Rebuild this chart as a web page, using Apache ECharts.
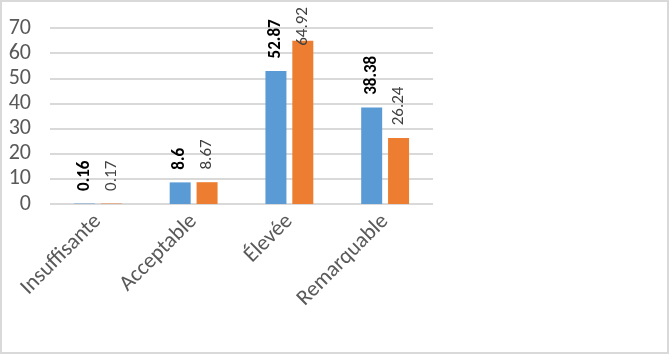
<!DOCTYPE html>
<html>
<head>
<meta charset="utf-8">
<script src="https://cdn.jsdelivr.net/npm/echarts@6/dist/echarts.min.js"></script>
<style>
  html, body { margin: 0; padding: 0; background: #fff; }
  #container { width: 669px; height: 354px; box-shadow: inset 0 0 0 2px #d9d9d9; }
</style>
</head>
<body>
<div id="container"></div>
<script>
// données
var categories = ['Insuffisante', 'Acceptable', 'Élevée', 'Remarquable'];
var ldValues = [0.16, 8.6, 52.87, 38.38];
var icValues = [0.17, 8.67, 64.92, 26.24];
var yTicks = [0, 10, 20, 30, 40, 50, 60, 70];

var font = 'Carlito, "Liberation Sans", sans-serif';

var myChart = echarts.init(document.getElementById('container'));

var icData = icValues.map(function (v, i) {
  if (i === 2) return { value: v, label: { position: 'insideTop' } };
  return v;
});

function spaced(p) {
  return (p.seriesIndex === 1 && p.dataIndex === 2) ? String(p.value) : '  ' + p.value;
}

myChart.setOption({
  animation: false,
  grid: { left: 50, right: 236, top: 28, bottom: 150 },
  xAxis: {
    type: 'category',
    data: categories,
    axisLine: { show: false },
    axisTick: { show: false },
    axisLabel: { rotate: 45, margin: 14, interval: 0, fontSize: 22, color: '#595959', fontFamily: font }
  },
  yAxis: {
    type: 'value',
    min: yTicks[0],
    max: yTicks[yTicks.length - 1],
    interval: 10,
    axisLine: { show: false },
    axisTick: { show: false },
    axisLabel: { margin: 19, fontSize: 22, color: '#595959', fontFamily: font },
    splitLine: { lineStyle: { color: '#d9d9d9', width: 2 } }
  },
  series: [{
    name: 'LD', type: 'bar', barWidth: 21, barGap: '28%',
    itemStyle: { color: '#5B9BD5' },
    label: { show: true, position: 'top', rotate: 90, align: 'left', verticalAlign: 'middle', fontSize: 17, fontWeight: 'bold', fontFamily: font, color: '#000', formatter: spaced },
    data: ldValues
  }, {
    name: 'IC', type: 'bar', barWidth: 21,
    itemStyle: { color: '#ED7D31' },
    label: { show: true, position: 'top', rotate: 90, align: 'left', verticalAlign: 'middle', fontSize: 17, fontFamily: font, color: '#404040', formatter: spaced },
    data: icData
  }]
});
</script>
</body>
</html>
